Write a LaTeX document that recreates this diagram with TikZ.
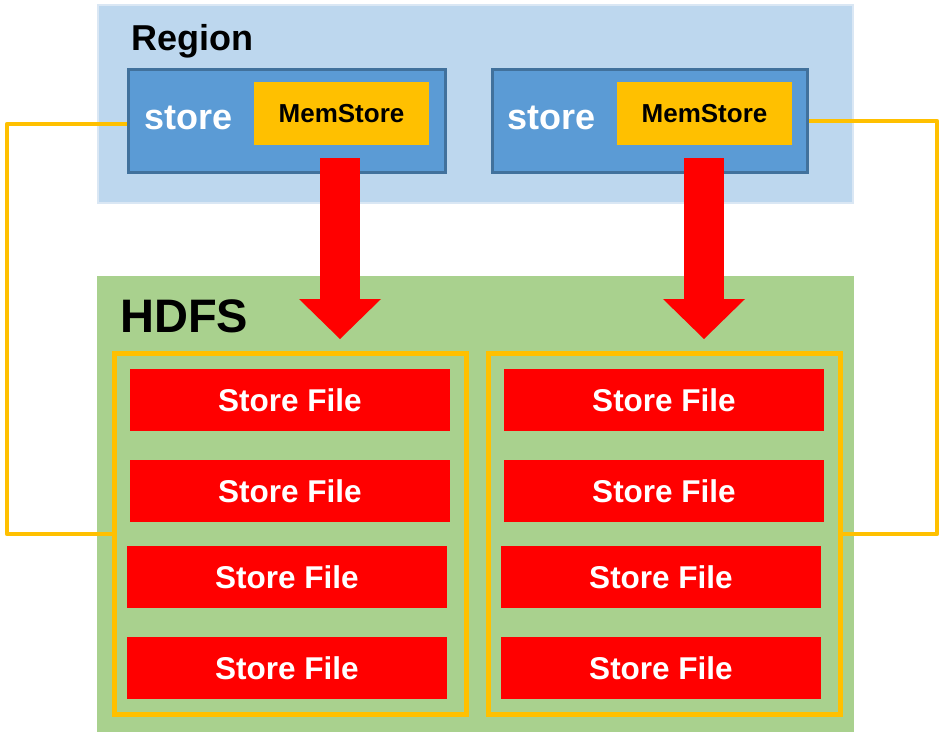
\documentclass[tikz,border=0pt]{standalone}
\usepackage{fontspec}
\setmainfont{Liberation Sans}
\usetikzlibrary{arrows.meta}
\definecolor{regionblue}{HTML}{BDD7EE}
\definecolor{regionedge}{HTML}{DAE7F4}
\definecolor{storeblue}{HTML}{5B9BD5}
\definecolor{storeedge}{HTML}{41719C}
\definecolor{memorange}{HTML}{FFC000}
\definecolor{hdfsgreen}{HTML}{A9D18E}
\definecolor{filered}{HTML}{FF0000}
\tikzset{>={Triangle[length=40pt, width=82pt, line width=0pt]}}

\begin{document}
\begin{tikzpicture}[x=1pt, y=-1pt, inner sep=0pt,
    storebox/.style={fill=storeblue, draw=storeedge, line width=3pt, minimum width=#1, minimum height=103pt},
    storetext/.style={anchor=base west, text=white, font=\bfseries\fontsize{36}{40}\selectfont},
    memstore/.style={fill=memorange, minimum width=175pt, minimum height=63pt, font=\bfseries\fontsize{26}{30}\selectfont},
    frame/.style={draw=memorange, line width=5pt, minimum width=352pt, minimum height=361pt},
    storefile/.style={fill=filered, text=white, minimum width=320pt, minimum height=62pt, font=\bfseries\fontsize{31.5}{36}\selectfont},
    flush/.style={->, draw=filered, line width=40pt, shorten <=13pt, shorten >=12pt},
    link/.style={draw=memorange, line width=4.5pt, line join=round}]
  \useasboundingbox (0,0) rectangle (944,736);
  % containers
  \node[fill=regionblue, draw=regionedge, line width=2pt, minimum width=755pt, minimum height=198pt] (region) at (475.5,104) {};
  \node[anchor=base west, font=\bfseries\fontsize{36}{40}\selectfont] (region_label) at (131,50) {Region};
  \node[fill=hdfsgreen, minimum width=757pt, minimum height=456pt] (hdfs) at (475.5,504) {};
  \node[anchor=base west, font=\bfseries\fontsize{47}{52}\selectfont] (hdfs_label) at (120,332) {HDFS};
  % stores with their memstores
  \node[storebox=317pt] (store_left) at (287,121) {};
  \node[storebox=315pt] (store_right) at (650,121) {};
  \node[storetext] (store_left_label) at (144,129) {store};
  \node[storetext] (store_right_label) at (507,129) {store};
  \node[memstore] (mem_left) at (341.5,113.5) {MemStore};
  \node[memstore] (mem_right) at (704.5,113.5) {MemStore};
  % store files on hdfs
  \node[frame] (frame_left) at (290.5,534) {};
  \node[frame] (frame_right) at (664.5,534) {};
  \node[storefile] (file_left_a) at (290,400) {Store File};
  \node[storefile] (file_left_b) at (290,491) {Store File};
  \node[storefile] (file_left_c) at (287,577) {Store File};
  \node[storefile] (file_left_d) at (287,668) {Store File};
  \node[storefile] (file_right_a) at (664,400) {Store File};
  \node[storefile] (file_right_b) at (664,491) {Store File};
  \node[storefile] (file_right_c) at (661,577) {Store File};
  \node[storefile] (file_right_d) at (661,668) {Store File};
  % flushes
  \draw[flush] ([xshift=-1.5pt]mem_left.south) -- ([xshift=-1.5pt]mem_left.south |- frame_left.north);
  \draw[flush] ([xshift=-0.5pt]mem_right.south) -- ([xshift=-0.5pt]mem_right.south |- frame_right.north);
  % links
  \coordinate (left_turn) at (7,534);
  \coordinate (right_turn) at (937,534);
  \draw[link] ([yshift=-3pt]store_left.west) -| (left_turn) -- (frame_left.west);
  \draw[link] (store_right.east) -| (right_turn) -- (frame_right.east);
\end{tikzpicture}
\end{document}
